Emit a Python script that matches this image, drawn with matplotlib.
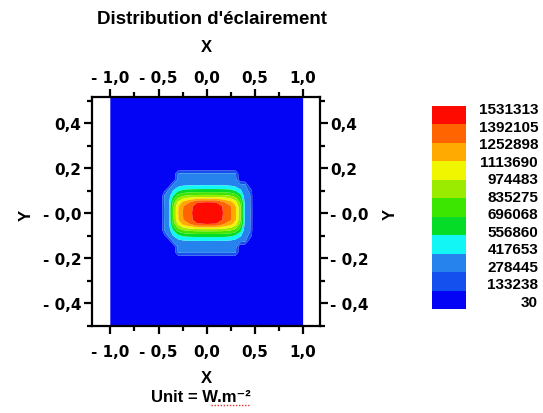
import numpy as np
import matplotlib
matplotlib.use("Agg")
import matplotlib.pyplot as plt
from matplotlib.lines import Line2D
from matplotlib.transforms import ScaledTranslation

# ---------------- data ----------------
title = "Distribution d'éclairement"
unit_label = "Unit = W.m⁻²"

# contour levels (W/m²) as shown in the colour legend
levels = [30, 133238, 278445, 417653, 556860, 696068, 835275,
          974483, 1113690, 1252898, 1392105, 1531313]
level_labels = ["30", "133238", "278445", "417653", "556860", "696068",
                "835275", "974483", "1113690", "1252898", "1392105", "1531313"]
band_colors = ["#0303F6", "#1450EE", "#2683EE", "#12F6F6", "#05DC28",
               "#3CE600", "#9AEB00", "#F0F500", "#FFAA00", "#FF6400", "#FF0A00"]

# grid nodes where the illuminance was read (x: -1..1, y: upper half, mirrored)
x_nodes = [-1.0, -0.48, -0.44, -0.40, -0.35, -0.30, -0.25, -0.20, -0.15, -0.10, 0.0,
           0.10, 0.15, 0.20, 0.25, 0.30, 0.35, 0.40, 0.45, 0.49, 1.0]
y_nodes_upper = [0.0, 0.03, 0.05, 0.075, 0.10, 0.125, 0.15, 0.175, 0.20, 0.55]

# illuminance, in kW/m² (rows follow y_nodes_upper)
E_row_000 = [0.03, 0.03, 300, 340, 800, 1100, 1250, 1330, 1395, 1460, 1531, 1475, 1420, 1345, 1275, 1140, 870, 360, 300, 0.03, 0.03]
E_row_003 = [0.03, 0.03, 295, 335, 790, 1090, 1240, 1320, 1385, 1450, 1480, 1455, 1410, 1335, 1265, 1130, 860, 355, 295, 0.03, 0.03]
E_row_005 = [0.03, 0.03, 290, 330, 720, 980, 1130, 1210, 1270, 1375, 1385, 1380, 1290, 1220, 1150, 1020, 780, 340, 290, 0.03, 0.03]
E_row_075 = [0.03, 0.03, 288, 320, 560, 760, 840, 875, 890, 900, 905, 900, 895, 885, 855, 790, 620, 330, 288, 0.03, 0.03]
E_row_010 = [0.03, 0.03, 100, 300, 420, 520, 580, 600, 605, 610, 613, 612, 610, 605, 590, 540, 440, 320, 250, 0.03, 0.03]
E_row_125 = [0.03, 0.03, 0.03, 0.03, 300, 360, 390, 400, 405, 405, 410, 405, 405, 400, 390, 360, 330, 300, 0.03, 0.03, 0.03]
E_row_015 = [0.03, 0.03, 0.03, 0.03, 0.03, 290, 340, 350, 350, 350, 350, 350, 350, 350, 345, 320, 0.03, 0.03, 0.03, 0.03, 0.03]
E_row_175 = [0.03, 0.03, 0.03, 0.03, 0.03, 280, 300, 300, 300, 300, 300, 300, 300, 300, 300, 290, 0.03, 0.03, 0.03, 0.03, 0.03]
E_row_020 = [0.03] * 21
E_row_055 = [0.03] * 21

x_ticks = [-1.0, -0.5, 0.0, 0.5, 1.0]
x_tick_labels = ["- 1,0", "- 0,5", "0,0", "0,5", "1,0"]
y_ticks = [-0.4, -0.2, 0.0, 0.2, 0.4]
y_tick_labels = ["- 0,4", "- 0,2", "- 0,0", "0,2", "0,4"]

# ---------------- build field ----------------
upper = np.array([E_row_000, E_row_003, E_row_005, E_row_075, E_row_010,
                  E_row_125, E_row_015, E_row_175, E_row_020, E_row_055]) * 1000.0
yu = np.array(y_nodes_upper)
Y_nodes = np.concatenate([-yu[::-1][:-1], yu])
Z = np.vstack([upper[::-1][:-1], upper])
X_nodes = np.array(x_nodes)

# ---------------- figure ----------------
W, H = 543, 414
fig = plt.figure(figsize=(W / 100, H / 100), dpi=100)
FONT = ["Liberation Sans", "DejaVu Sans"]
TICKFONT = ["DejaVu Sans"]

def fx(px):
    return px / W

def fy(py):
    return 1 - py / H

ax = fig.add_axes([fx(92), fy(327), (320 - 92) / W, (327 - 98) / H])
cs = ax.contourf(X_nodes, Y_nodes, Z, levels=levels, colors=band_colors,
                 antialiased=True)
ax.set_xlim(-1.19, 1.175)
ax.set_ylim(-0.502, 0.516)

ax.set_xticks(x_ticks)
ax.set_xticklabels(x_tick_labels)
ax.set_yticks(y_ticks)
ax.set_yticklabels(y_tick_labels)
ax.set_xticks([-0.75, -0.25, 0.25, 0.75], minor=True)
ax.set_yticks([-0.5, -0.3, -0.1, 0.1, 0.3, 0.5], minor=True)

for sp in ax.spines.values():
    sp.set_linewidth(1.6)
    sp.set_color("black")

ax.tick_params(axis="both", which="both", direction="out", width=1.6,
               colors="black", top=True, right=True,
               labeltop=True, labelright=True)
ax.tick_params(axis="both", which="major", length=5.5)
ax.tick_params(axis="both", which="minor", length=3.5)
ax.tick_params(axis="x", which="major", pad=5)
ax.tick_params(axis="y", which="major", pad=2)

for t in ax.xaxis.get_major_ticks() + ax.yaxis.get_major_ticks():
    for l in (t.label1, t.label2):
        l.set_fontfamily(TICKFONT)
        l.set_fontweight("bold")
        l.set_fontsize(11)

# bottom labels a little lower than the top ones are high
shift = ScaledTranslation(0, -3 / 100, fig.dpi_scale_trans)
for l in ax.get_xticklabels(which="major"):
    l.set_transform(l.get_transform() + shift)

# titles / axis names
fig.text(fx(212), fy(20), title, ha="center", va="center",
         fontsize=13.5, fontweight="bold", family=FONT)
fig.text(fx(206.7), fy(47.5), "X", ha="center", va="center",
         fontsize=12, fontweight="bold", family=FONT)
fig.text(fx(206.7), fy(379), "X", ha="center", va="center",
         fontsize=12, fontweight="bold", family=FONT)
fig.text(fx(201), fy(398), unit_label, ha="center", va="center",
         fontsize=12, fontweight="bold", family=FONT)
fig.add_artist(Line2D([fx(211), fx(250)], [fy(406), fy(406)],
                      color="#E03030", lw=1.0, ls=(0, (1, 1.2))))
fig.text(fx(26), fy(215), "Y", ha="center", va="center", rotation=90,
         fontsize=12, fontweight="bold", family=FONT)
fig.text(fx(390), fy(214), "Y", ha="center", va="center", rotation=90,
         fontsize=12, fontweight="bold", family=FONT)

# colour legend
cax = fig.add_axes([fx(432), fy(310), 34 / W, (310 - 107) / H])
cb = fig.colorbar(cs, cax=cax)
cb.outline.set_visible(False)
cax.set_yticks([])
cax.tick_params(length=0)
n = len(level_labels)
top_py, bot_py = 110, 303
for i, lab in enumerate(reversed(level_labels)):
    py = top_py + i * (bot_py - top_py) / (n - 1)
    fig.text(fx(538), fy(py), lab, ha="right", va="center",
             fontsize=11, fontweight="bold", family=FONT)

fig.savefig("out.png", dpi=100)
